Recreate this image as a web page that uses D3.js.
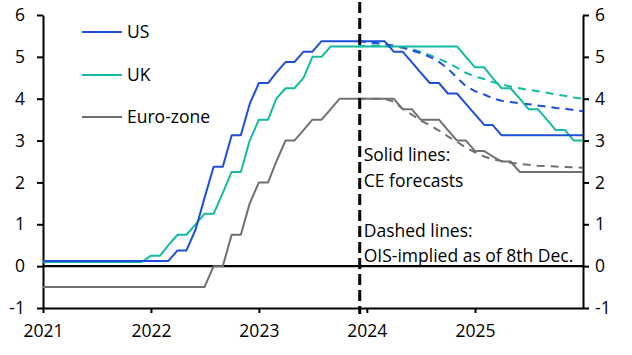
<!DOCTYPE html>
<html>
<head>
<meta charset="utf-8">
<script src="https://cdn.jsdelivr.net/npm/d3@7"></script>
<style>
  html, body { margin: 0; padding: 0; background: #fff; }
  svg { display: block; font-family: "Open Sans", "Noto Sans", sans-serif; }
</style>
</head>
<body>
<svg id="chart" width="632" height="355"></svg>
<script>
// ---------------- DATA ----------------
// Monthly observations, first month = Jan 2021, last = Jan 2026
const startMonth = "2021-01";
const endMonth = "2026-01";
const yearTicks = ["2021", "2022", "2023", "2024", "2025"];
const yTicks = [-1, 0, 1, 2, 3, 4, 5, 6];
const seriesNames = ["US", "UK", "Euro-zone"];

// CE forecasts (solid)
const usSolid = [
  0.125,0.125,0.125,0.125,0.125,0.125,0.125,0.125,0.125,0.125,0.125,0.125,
  0.125,0.125,0.125,0.375,0.375,0.875,1.625,2.375,2.375,3.125,3.125,3.875,
  4.375,4.375,4.625,4.875,4.875,5.125,5.125,5.375,5.375,5.375,5.375,5.375,
  5.375,5.375,5.375,5.125,5.125,4.875,4.625,4.375,4.375,4.125,4.125,3.875,
  3.625,3.375,3.375,3.125,3.125,3.125,3.125,3.125,3.125,3.125,3.125,3.125,
  3.125
];
const ukSolid = [
  0.1,0.1,0.1,0.1,0.1,0.1,0.1,0.1,0.1,0.1,0.1,0.1,
  0.25,0.25,0.5,0.75,0.75,1.0,1.25,1.25,1.75,2.25,2.25,3.0,
  3.5,3.5,4.0,4.25,4.25,4.5,5.0,5.0,5.25,5.25,5.25,5.25,
  5.25,5.25,5.25,5.25,5.25,5.25,5.25,5.25,5.25,5.25,5.25,5.0,
  4.75,4.75,4.5,4.25,4.25,4.0,3.75,3.75,3.5,3.25,3.25,3.0,
  3.0
];
const ezSolid = [
  -0.5,-0.5,-0.5,-0.5,-0.5,-0.5,-0.5,-0.5,-0.5,-0.5,-0.5,-0.5,
  -0.5,-0.5,-0.5,-0.5,-0.5,-0.5,-0.5,0,0,0.75,0.75,1.5,
  2.0,2.0,2.5,3.0,3.0,3.25,3.5,3.5,3.75,4.0,4.0,4.0,
  4.0,4.0,4.0,4.0,3.75,3.75,3.5,3.5,3.5,3.25,3.0,3.0,
  2.75,2.75,2.625,2.5,2.5,2.25,2.25,2.25,2.25,2.25,2.25,2.25,
  2.25
];

// OIS-implied (dashed), first month = Dec 2023
const oisStart = "2023-12";
const usOis = [5.37,5.35,5.33,5.3,5.27,5.22,5.15,5.09,5.0,4.88,4.72,4.5,4.3,4.18,4.1,4.01,3.95,3.92,3.89,3.87,3.84,3.81,3.78,3.76,3.73,3.7];
const ukOis = [5.25,5.27,5.27,5.26,5.25,5.22,5.19,5.12,5.04,4.95,4.86,4.74,4.62,4.53,4.47,4.4,4.34,4.29,4.25,4.21,4.18,4.14,4.1,4.07,4.03,4.0];
const ezOis = [4.0,4.0,4.0,4.0,3.93,3.76,3.62,3.48,3.37,3.24,3.1,2.97,2.83,2.72,2.62,2.55,2.51,2.47,2.44,2.42,2.4,2.39,2.38,2.37,2.36,2.35];

const forecastDate = "2023-12-08";
const noteLines = ["Solid lines:", "CE forecasts", "", "Dashed lines:", "OIS-implied as of 8th Dec."];

// ---------------- CHART ----------------
const colors = { "US": "#1d4fd8", "UK": "#14bba0", "Euro-zone": "#707070" };
const W = 632, H = 355;
const m = { left: 43, right: 49, top: 15, bottom: 47 };
const svg = d3.select("#chart");

const parseM = d3.timeParse("%Y-%m");
const parseD = d3.timeParse("%Y-%m-%d");
const months = d3.timeMonth.range(parseM(startMonth), d3.timeMonth.offset(parseM(endMonth), 1));
const oisMonths = d3.timeMonth.range(parseM(oisStart), d3.timeMonth.offset(parseM(endMonth), 1));

const x = d3.scaleTime()
  .domain([parseM(startMonth), parseM("2026-01")])
  .range([m.left, W - m.right]);
const y = d3.scaleLinear().domain([-1, 6]).range([H - m.bottom, m.top]);

const fontSize = 17.5;
const fontFam = '"Open Sans", sans-serif';

// zero line
svg.append("line")
  .attr("x1", x.range()[0]).attr("x2", x.range()[1])
  .attr("y1", y(0)).attr("y2", y(0))
  .attr("stroke", "#000").attr("stroke-width", 2.2);

// axes
const axisStyle = g => {
  g.select(".domain").attr("stroke", "#000").attr("stroke-width", 2);
  g.selectAll(".tick line").attr("stroke", "#000").attr("stroke-width", 2);
  g.selectAll(".tick text").attr("fill", "#000").style("font-size", fontSize + "px").style("font-family", fontFam);
};

svg.append("g")
  .attr("transform", `translate(0,${y(-1)})`)
  .call(d3.axisBottom(x)
    .tickValues(yearTicks.map(s => parseM(s + "-01")))
    .tickFormat(d3.timeFormat("%Y"))
    .tickSize(5).tickSizeOuter(0).tickPadding(12))
  .call(axisStyle);

svg.append("g")
  .attr("transform", `translate(${x.range()[0]},0)`)
  .call(d3.axisLeft(y).tickValues(yTicks).tickFormat(d => String(d))
    .tickSize(6).tickSizeOuter(0).tickPadding(12))
  .call(axisStyle);

svg.append("g")
  .attr("transform", `translate(${x.range()[1]},0)`)
  .call(d3.axisRight(y).tickValues(yTicks).tickFormat(d => String(d))
    .tickSize(6).tickSizeOuter(0).tickPadding(6))
  .call(axisStyle);

// lines
const lineGen = dates => d3.line().x((d, i) => x(dates[i])).y(d => y(d));

const dashed = [
  { name: "Euro-zone", v: ezOis },
  { name: "UK", v: ukOis },
  { name: "US", v: usOis }
];
const solid = [
  { name: "Euro-zone", v: ezSolid },
  { name: "UK", v: ukSolid },
  { name: "US", v: usSolid }
];

dashed.forEach(s => {
  svg.append("path")
    .attr("d", lineGen(oisMonths)(s.v))
    .attr("fill", "none")
    .attr("stroke", colors[s.name])
    .attr("stroke-width", 2)
    .attr("stroke-dasharray", "8,6");
});
solid.forEach(s => {
  svg.append("path")
    .attr("d", lineGen(months)(s.v))
    .attr("fill", "none")
    .attr("stroke", colors[s.name])
    .attr("stroke-width", 2)
    .attr("stroke-linejoin", "round");
});

// vertical dashed line
const fx = x(parseD(forecastDate));
svg.append("line")
  .attr("x1", fx).attr("x2", fx)
  .attr("y1", 2).attr("y2", y(-1) + 6)
  .attr("stroke", "#000").attr("stroke-width", 3)
  .attr("stroke-dasharray", "11,5");

// legend
const legY = [32, 75, 117];
seriesNames.forEach((n, i) => {
  svg.append("line")
    .attr("x1", 82).attr("x2", 122)
    .attr("y1", legY[i]).attr("y2", legY[i])
    .attr("stroke", colors[n]).attr("stroke-width", 2);
  svg.append("text")
    .attr("x", 127).attr("y", legY[i])
    .attr("dy", "0.35em")
    .style("font-size", fontSize + "px")
    .style("font-family", fontFam)
    .attr("fill", "#000")
    .text(n);
});

// annotation
const noteY = [161, 186.5, 212, 237, 261.5];
noteLines.forEach((t, i) => {
  if (!t) return;
  svg.append("text")
    .attr("x", fx + 4).attr("y", noteY[i])
    .style("font-size", fontSize + "px")
    .style("font-family", fontFam)
    .attr("fill", "#000")
    .text(t);
});
</script>
</body>
</html>
